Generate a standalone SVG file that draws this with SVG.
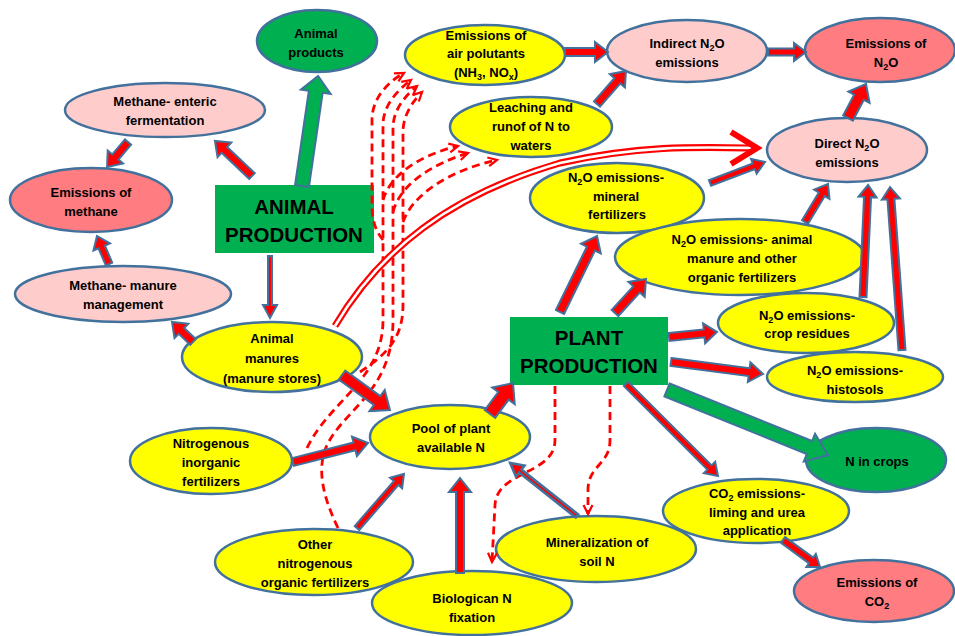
<svg xmlns="http://www.w3.org/2000/svg" width="955" height="636" viewBox="0 0 955 636">
<defs>
<style>
.n{stroke:#41719C;stroke-width:2.5}
.y{fill:#FFFF00}.g{fill:#00B050}.p{fill:#FFCCCC}.s{fill:#FF7C80}
text{font-family:"Liberation Sans",Arial,sans-serif;font-weight:bold;font-size:13px;text-anchor:middle;fill:#000}
text.big{font-size:20.5px;font-weight:bold}
.sub{font-size:9px}
.ar{fill:#FF0000;stroke:#41719C;stroke-width:2;stroke-linejoin:miter}
.ga{fill:#00B050;stroke:#41719C;stroke-width:2}
.d{fill:none;stroke:#FF0000;stroke-width:2.8;stroke-dasharray:8 5}
</style>
<marker id="oh" viewBox="0 0 10 10" refX="9" refY="5" markerWidth="4" markerHeight="4" orient="auto" overflow="visible">
<path d="M1,1 L9,5 L1,9" fill="none" stroke="#FF0000" stroke-width="2" stroke-dasharray="none"/>
</marker>
</defs>
<rect width="955" height="636" fill="#FFFFFF"/>

<g id="animal-products"><ellipse class="n g" cx="317" cy="41" rx="60" ry="31"/><text x="316" y="38">Animal</text><text x="316" y="57">products</text></g>
<g id="methane-enteric"><ellipse class="n p" cx="165" cy="110" rx="100" ry="27"/><text x="165" y="106">Methane- enteric</text><text x="165" y="125">fermentation</text></g>
<g id="emissions-methane"><ellipse class="n s" cx="91" cy="200" rx="81" ry="32"/><text x="91" y="197">Emissions of</text><text x="91" y="216">methane</text></g>
<g id="methane-manure"><ellipse class="n p" cx="123" cy="294" rx="108" ry="28"/><text x="123" y="290">Methane- manure</text><text x="123" y="309">management</text></g>
<g id="animal-production"><rect class="g" x="215" y="185" width="159" height="68"/><text class="big" x="294" y="214">ANIMAL</text><text class="big" x="294" y="242">PRODUCTION</text></g>
<g id="animal-manures"><ellipse class="n y" cx="272" cy="357" rx="90" ry="35"/><text x="272" y="343">Animal</text><text x="272" y="363">manures</text><text x="272" y="383">(manure stores)</text></g>
<g id="air-pollutants"><ellipse class="n y" cx="485" cy="55" rx="80" ry="30"/><text x="486" y="40">Emissions of</text><text x="486" y="58">air polutants</text><text x="486" y="77">(NH<tspan class="sub" dy="3">3</tspan><tspan dy="-3">, NO</tspan><tspan class="sub" dy="3">x</tspan><tspan dy="-3">)</tspan></text></g>
<g id="leaching"><ellipse class="n y" cx="531" cy="127" rx="81" ry="30"/><text x="531" y="112">Leaching and</text><text x="531" y="131">runof of N to</text><text x="531" y="150">waters</text></g>
<g id="indirect-n2o"><ellipse class="n p" cx="687" cy="51" rx="80" ry="31"/><text x="687" y="48">Indirect N<tspan class="sub" dy="3">2</tspan><tspan dy="-3">O</tspan></text><text x="687" y="67">emissions</text></g>
<g id="emissions-n2o"><ellipse class="n s" cx="880" cy="50" rx="75" ry="32"/><text x="886" y="48">Emissions of</text><text x="886" y="67">N<tspan class="sub" dy="3">2</tspan><tspan dy="-3">O</tspan></text></g>
<g id="direct-n2o"><ellipse class="n p" cx="847" cy="150" rx="80" ry="32"/><text x="847" y="148">Direct N<tspan class="sub" dy="3">2</tspan><tspan dy="-3">O</tspan></text><text x="847" y="167">emissions</text></g>
<g id="n2o-mineral"><ellipse class="n y" cx="617" cy="198" rx="87" ry="35"/><text x="616" y="182">N<tspan class="sub" dy="3">2</tspan><tspan dy="-3">O emissions-</tspan></text><text x="616" y="201">mineral</text><text x="617" y="219">fertilizers</text></g>
<g id="n2o-manure"><ellipse class="n y" cx="740" cy="257" rx="125" ry="38"/><text x="742" y="244">N<tspan class="sub" dy="3">2</tspan><tspan dy="-3">O emissions- animal</tspan></text><text x="742" y="263">manure and other</text><text x="742" y="282">organic fertilizers</text></g>
<g id="n2o-crop"><ellipse class="n y" cx="806" cy="323" rx="88" ry="30"/><text x="807" y="320">N<tspan class="sub" dy="3">2</tspan><tspan dy="-3">O emissions-</tspan></text><text x="807" y="338">crop residues</text></g>
<g id="n2o-histosols"><ellipse class="n y" cx="855" cy="377" rx="88" ry="25"/><text x="855" y="375">N<tspan class="sub" dy="3">2</tspan><tspan dy="-3">O emissions-</tspan></text><text x="855" y="394">histosols</text></g>
<g id="plant-production"><rect class="g" x="510" y="317" width="158" height="68"/><text class="big" x="589" y="345">PLANT</text><text class="big" x="589" y="373">PRODUCTION</text></g>
<g id="n-crops"><ellipse class="n g" cx="876" cy="460" rx="70" ry="32"/><text x="877" y="466">N in crops</text></g>
<g id="co2-emissions"><ellipse class="n y" cx="756" cy="511" rx="93" ry="32"/><text x="757" y="498">CO<tspan class="sub" dy="3">2</tspan><tspan dy="-3"> emissions-</tspan></text><text x="757" y="517">liming and urea</text><text x="757" y="535">application</text></g>
<g id="emissions-co2"><ellipse class="n s" cx="874" cy="591" rx="80" ry="31"/><text x="877" y="587">Emissions of</text><text x="877" y="606">CO<tspan class="sub" dy="3">2</tspan></text></g>
<g id="pool"><ellipse class="n y" cx="450" cy="437" rx="80" ry="32"/><text x="451" y="433">Pool of plant</text><text x="451" y="452">available N</text></g>
<g id="inorganic"><ellipse class="n y" cx="211" cy="461" rx="81" ry="33"/><text x="211" y="448">Nitrogenous</text><text x="211" y="467">inorganic</text><text x="211" y="486">fertilizers</text></g>
<g id="organic"><ellipse class="n y" cx="314" cy="562" rx="99" ry="33"/><text x="315" y="549">Other</text><text x="315" y="568">nitrogenous</text><text x="315" y="587">organic fertilizers</text></g>
<g id="fixation"><ellipse class="n y" cx="472" cy="603" rx="100" ry="32"/><text x="472" y="603">Biologican N</text><text x="472" y="622">fixation</text></g>
<g id="mineralization"><ellipse class="n y" cx="596" cy="549" rx="100" ry="33"/><text x="597" y="547">Mineralization of</text><text x="597" y="566">soil N</text></g>

<g id="connectors">
<path class="d" marker-end="url(#oh)" d="M307,448 C330,400 383,380 383,320 L383,125 C383,105 398,90 411,80"/>
<path class="d" marker-end="url(#oh)" d="M338,528 C322,495 318,470 325,450 C340,410 393,395 393,320 L393,128 C393,110 405,96 417,86"/>
<path class="d" marker-end="url(#oh)" d="M360,372 C385,355 403,340 403,305 L403,132 C403,116 412,102 422,92"/>
<path class="d" marker-end="url(#oh)" d="M383,240 C375,230 372,220 372,205 L372,120 C372,98 388,82 404,73"/>
<path class="d" marker-end="url(#oh)" d="M383,200 C390,175 420,155 458,146"/>
<path class="d" marker-end="url(#oh)" d="M393,212 C400,185 430,165 468,153"/>
<path class="d" marker-end="url(#oh)" d="M403,222 C412,195 450,170 497,160"/>
<path class="d" marker-end="url(#oh)" d="M555,386 L555,440 C555,475 497,470 495,505 L492,562"/>
<path class="d" marker-end="url(#oh)" d="M610,386 L610,440 C610,465 588,465 588,490 L588,514"/>
<path d="M335,326 C380,250 450,195 560,163 C640,145 700,147 752,148" fill="none" stroke="#FF0000" stroke-width="7"/>
<path d="M335,326 C380,250 450,195 560,163 C640,145 700,147 752,148" fill="none" stroke="#FFFFFF" stroke-width="2.6"/>
<path d="M731,132 L757,148 L731,164" fill="none" stroke="#FF0000" stroke-width="6"/>
<polygon class="ar" transform="translate(252,176) rotate(-136.6)" points="0,-4 38,-4 38,-10 51,0 38,10 38,4 0,4"/>
<polygon class="ar" transform="translate(128,142) rotate(130)" points="0,-4 19.6,-4 19.6,-10 32.6,0 19.6,10 19.6,4 0,4"/>
<polygon class="ar" transform="translate(109,264) rotate(-113.2)" points="0,-3.5 18.5,-3.5 18.5,-9 30.5,0 18.5,9 18.5,3.5 0,3.5"/>
<polygon class="ar" transform="translate(193,342) rotate(-136.4)" points="0,-4 16,-4 16,-10 29,0 16,10 16,4 0,4"/>
<polygon class="ar" transform="translate(270,256) rotate(90)" points="0,-2 49,-2 49,-7 62,0 49,7 49,2 0,2"/>
<polygon class="ar" transform="translate(342,375) rotate(36.1)" points="0,-5.5 43.4,-5.5 43.4,-13 59.4,0 43.4,13 43.4,5.5 0,5.5"/>
<polygon class="ar" transform="translate(490,414) rotate(-53.4)" points="0,-6.5 22.6,-6.5 22.6,-14 38.6,0 22.6,14 22.6,6.5 0,6.5"/>
<polygon class="ar" transform="translate(293,462) rotate(-14.2)" points="0,-4 63.4,-4 63.4,-10 77.4,0 63.4,10 63.4,4 0,4"/>
<polygon class="ar" transform="translate(357,528) rotate(-49)" points="0,-3 59.6,-3 59.6,-8 71.6,0 59.6,8 59.6,3 0,3"/>
<polygon class="ar" transform="translate(460,573) rotate(-90)" points="0,-4 81,-4 81,-11 95,0 81,11 81,4 0,4"/>
<polygon class="ar" style="stroke-width:2.5" transform="translate(577,516) rotate(-141.6)" points="0,-2 72.4,-2 72.4,-7 85.4,0 72.4,7 72.4,2 0,2"/>
<polygon class="ar" transform="translate(560,312) rotate(-64)" points="0,-4.5 70.5,-4.5 70.5,-11 84.5,0 70.5,11 70.5,4.5 0,4.5"/>
<polygon class="ar" transform="translate(615,313) rotate(-47.6)" points="0,-4.5 32,-4.5 32,-11 46,0 32,11 32,4.5 0,4.5"/>
<polygon class="ar" transform="translate(669,337) rotate(-5.9)" points="0,-4 35.3,-4 35.3,-10 48.3,0 35.3,10 35.3,4 0,4"/>
<polygon class="ar" transform="translate(671,362) rotate(7.4)" points="0,-4 78.8,-4 78.8,-10 92.8,0 78.8,10 78.8,4 0,4"/>
<polygon class="ar" transform="translate(626,384) rotate(45)" points="0,-3 118.1,-3 118.1,-8 130.1,0 118.1,8 118.1,3 0,3"/>
<polygon class="ar" transform="translate(783,540) rotate(36.1)" points="0,-3.5 34.8,-3.5 34.8,-8 45.8,0 34.8,8 34.8,3.5 0,3.5"/>
<polygon class="ar" transform="translate(710,183) rotate(-20.9)" points="0,-3 46.9,-3 46.9,-8 58.9,0 46.9,8 46.9,3 0,3"/>
<polygon class="ar" transform="translate(805,222) rotate(-58.8)" points="0,-3.5 32.4,-3.5 32.4,-9 44.4,0 32.4,9 32.4,3.5 0,3.5"/>
<polygon class="ar" transform="translate(863,297) rotate(-87.4)" points="0,-3.5 100.1,-3.5 100.1,-9 112.1,0 100.1,9 100.1,3.5 0,3.5"/>
<polygon class="ar" transform="translate(902,350) rotate(-94.2)" points="0,-3.5 151.4,-3.5 151.4,-9 163.4,0 151.4,9 151.4,3.5 0,3.5"/>
<polygon class="ar" transform="translate(848,118) rotate(-62.1)" points="0,-5.5 23.5,-5.5 23.5,-12 38.5,0 23.5,12 23.5,5.5 0,5.5"/>
<polygon class="ar" transform="translate(768,52)" points="0,-3.5 26,-3.5 26,-9 38,0 26,9 26,3.5 0,3.5"/>
<polygon class="ar" transform="translate(565,52)" points="0,-4 30,-4 30,-10 43,0 30,10 30,4 0,4"/>
<polygon class="ar" transform="translate(597,104) rotate(-48.7)" points="0,-4 30.9,-4 30.9,-10 43.9,0 30.9,10 30.9,4 0,4"/>
<polygon class="ga" transform="translate(302,186) rotate(-81.7)" points="0,-7 95.2,-7 95.2,-15 111.2,0 95.2,15 95.2,7 0,7"/>
<polygon class="ga" transform="translate(667,390) rotate(22)" points="0,-7 153.6,-7 153.6,-15 173.6,0 153.6,15 153.6,7 0,7"/>
</g>
</svg>
